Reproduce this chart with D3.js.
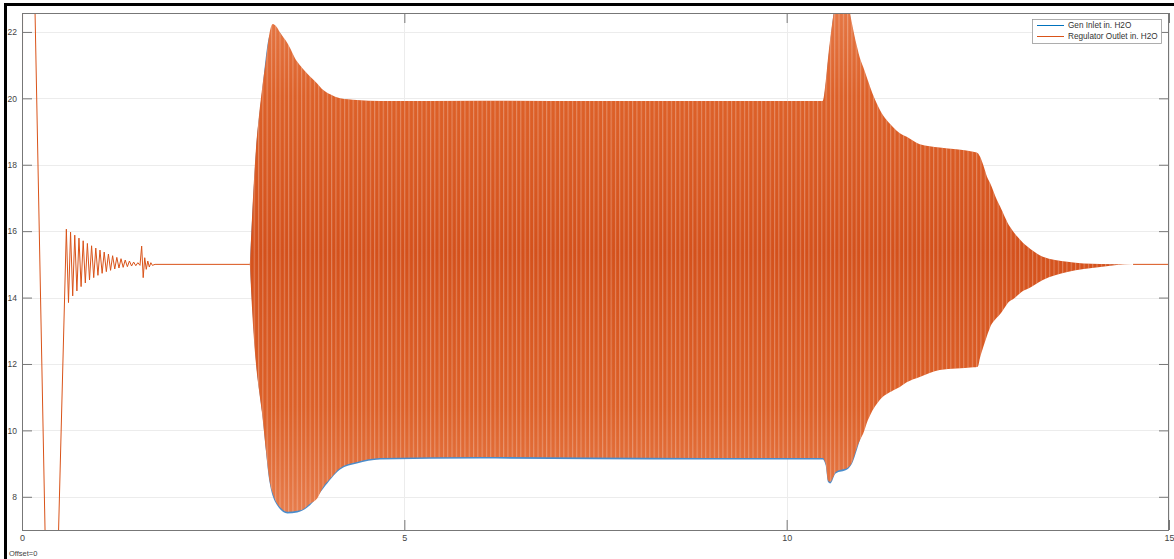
<!DOCTYPE html>
<html><head><meta charset="utf-8">
<script src="https://cdn.jsdelivr.net/npm/d3@7"></script>
<style>body{margin:0;background:#fff;} svg{display:block;font-family:"Liberation Sans",Arial,sans-serif;}</style>
</head><body><svg id="c" width="1174" height="559"></svg>
<script>
// ---- data ----
const xTicks = [0, 5, 10, 15];
const yTicks = [8, 10, 12, 14, 16, 18, 20, 22];
const seriesNames = ["Gen Inlet in. H2O", "Regulator Outlet in. H2O"];
const seriesColors = ["#0072BD", "#D95319"];

// Regulator outlet: start-up transient and decaying ringing (peaks/troughs)
const regEarlyT = [0, 0.01, 0.10, 0.36, 0.40,
  0.580, 0.608, 0.635, 0.663, 0.690, 0.718, 0.745, 0.773, 0.800, 0.828, 0.855, 0.883, 0.910, 0.938, 0.965, 0.993,
  1.020, 1.048, 1.075, 1.103, 1.130, 1.158, 1.185, 1.213, 1.240, 1.268, 1.295, 1.323, 1.350, 1.378, 1.405, 1.433,
  1.460, 1.488, 1.515, 1.543, 1.565, 1.585, 1.605, 1.625, 1.645, 1.665, 1.685, 1.705, 1.740, 2.98];
const regEarlyV = [0, 31, 31, 0, 0,
  16.06, 13.85, 15.97, 14.05, 15.88, 14.20, 15.79, 14.33, 15.71, 14.44, 15.63, 14.53, 15.56, 14.60, 15.49, 14.67,
  15.43, 14.73, 15.37, 14.78, 15.31, 14.82, 15.26, 14.86, 15.21, 14.89, 15.17, 14.91, 15.13, 14.93, 15.10, 14.95,
  15.07, 14.96, 15.05, 14.97, 15.55, 14.60, 15.20, 14.85, 15.10, 14.92, 15.05, 14.97, 15.0, 15.0];

// Regulator outlet: envelope of the dense oscillation (upper / lower)
const regT     = [2.98, 3.01, 3.06, 3.10, 3.14, 3.19, 3.24, 3.28, 3.33, 3.37, 3.47, 3.60, 3.67, 3.77, 3.86, 3.94, 4.03, 4.16, 4.38, 4.68, 6.00, 7.50, 9.00, 10.47, 10.51, 10.54, 10.57, 10.61, 10.64, 10.72, 10.79, 10.85, 10.92, 10.96, 11.00, 11.06, 11.09, 11.22, 11.39, 11.48, 11.57, 11.74, 12.00, 12.44, 12.50, 12.53, 12.57, 12.62, 12.66, 12.75, 12.79, 12.92, 12.96, 13.09, 13.14, 13.35, 13.67, 14.10, 14.53, 15.0];
const regUpper = [15.0, 16.5, 18.5, 19.5, 20.3, 21.15, 22.0, 22.24, 22.15, 22.0, 21.67, 21.1, 20.9, 20.65, 20.45, 20.25, 20.12, 20.0, 19.95, 19.92, 19.93, 19.92, 19.92, 19.92, 20.5, 21.2, 21.8, 22.5, 22.9, 23.2, 23.0, 22.3, 21.55, 21.2, 20.95, 20.55, 20.35, 19.65, 19.14, 18.95, 18.84, 18.62, 18.52, 18.39, 18.35, 18.24, 18.0, 17.64, 17.45, 16.94, 16.75, 16.13, 16.0, 15.65, 15.55, 15.23, 15.08, 15.01, 15.0, 15.0];
const regLower = [15.0, 13.6, 12.0, 11.2, 10.5, 9.4, 8.45, 8.1, 7.82, 7.7, 7.55, 7.58, 7.62, 7.8, 7.95, 8.3, 8.55, 8.87, 9.05, 9.17, 9.2, 9.18, 9.17, 9.17, 9.0, 8.5, 8.45, 8.6, 8.75, 8.82, 8.87, 9.02, 9.5, 9.72, 9.9, 10.3, 10.45, 10.92, 11.2, 11.31, 11.45, 11.61, 11.82, 11.9, 11.92, 12.2, 12.5, 12.85, 13.1, 13.4, 13.5, 13.9, 13.95, 14.2, 14.25, 14.53, 14.77, 14.92, 15.0, 15.0];

// Gen inlet: envelope of the dense oscillation (mostly hidden under the outlet)
const genT     = [2.98, 3.06, 3.14, 3.24, 3.33, 3.47, 3.60, 3.77, 3.94, 4.16, 4.38, 4.68, 6.00, 7.50, 9.00, 10.47, 10.51, 10.54, 10.57, 10.64, 10.79, 10.85, 10.96, 11.09, 11.22, 11.48, 12.00, 12.44, 12.50, 12.53, 12.57, 12.62, 12.66, 12.75, 12.96, 13.35, 14.10, 14.53, 15.0];
const genUpper = [15.0, 18.4, 20.2, 21.9, 22.05, 21.57, 21.0, 20.55, 20.15, 19.9, 19.85, 19.82, 19.83, 19.82, 19.82, 19.82, 20.4, 21.1, 21.7, 22.8, 22.9, 22.2, 21.1, 20.25, 19.55, 18.85, 18.42, 18.3, 18.25, 18.1, 17.9, 17.5, 17.3, 16.8, 15.9, 15.13, 14.99, 15.0, 15.0];
const genLower = [15.0, 12.1, 10.55, 8.41, 7.77, 7.50, 7.53, 7.75, 8.25, 8.82, 9.0, 9.12, 9.15, 9.13, 9.12, 9.12, 8.95, 8.45, 8.40, 8.70, 8.82, 8.98, 9.72, 10.52, 10.98, 11.38, 11.88, 11.97, 12.0, 12.3, 12.6, 12.95, 13.2, 13.5, 14.02, 14.60, 14.96, 15.0, 15.0];

// ---- drawing ----
const svg = d3.select("#c");
const L = 22, T = 13, R = 1169, B = 530;
const x = d3.scaleLinear().domain([0, 15]).range([L, R]);
const y = d3.scaleLinear().domain([7, 22.57]).range([B, T]);

const defs = svg.append("defs");
defs.append("clipPath").attr("id", "plotclip").append("rect")
  .attr("x", L).attr("y", T).attr("width", R - L).attr("height", B - T);
const grad = defs.append("linearGradient").attr("id", "og").attr("x1", 0).attr("y1", 0).attr("x2", 0).attr("y2", 1);
[[0, "#E77C4B"], [0.2, "#DD6129"], [0.5, "#D4511C"], [0.8, "#DD6129"], [1, "#E77C4B"]]
  .forEach(([o, c]) => grad.append("stop").attr("offset", o).attr("stop-color", c));
const pat = defs.append("pattern").attr("id", "stripes").attr("patternUnits", "userSpaceOnUse")
  .attr("width", 4.3).attr("height", 20);
pat.append("rect").attr("x", 0).attr("y", 0).attr("width", 1.1).attr("height", 20).attr("fill", "#fff").attr("opacity", 0.28);

// white background
svg.append("rect").attr("width", 1174).attr("height", 559).attr("fill", "#fff");

// grid
const grid = svg.append("g").attr("stroke", "#ececec").attr("stroke-width", 1);
yTicks.forEach(v => grid.append("line").attr("x1", L).attr("x2", R)
  .attr("y1", Math.round(y(v)) + 0.5).attr("y2", Math.round(y(v)) + 0.5));
xTicks.forEach(v => grid.append("line").attr("y1", T).attr("y2", B)
  .attr("x1", Math.round(x(v)) + 0.5).attr("x2", Math.round(x(v)) + 0.5));

const plot = svg.append("g").attr("clip-path", "url(#plotclip)");

const curve = d3.curveMonotoneX;
const genArea = d3.area().curve(curve).x(i => x(genT[i])).y0(i => y(genLower[i])).y1(i => y(genUpper[i]));
const regArea = d3.area().curve(curve).x(i => x(regT[i])).y0(i => y(regLower[i])).y1(i => y(regUpper[i]));
const genIdx = d3.range(genT.length), regIdx = d3.range(regT.length);

plot.append("path").attr("d", genArea(genIdx)).attr("fill", "#4A8CCB");

const line = d3.line().x(i => x(regEarlyT[i])).y(i => y(regEarlyV[i]));
plot.append("path").attr("d", line(d3.range(regEarlyT.length)))
  .attr("fill", "none").attr("stroke", seriesColors[1]).attr("stroke-width", 1);
plot.append("line").attr("x1", x(14.53)).attr("x2", x(15)).attr("y1", y(15)).attr("y2", y(15))
  .attr("stroke", seriesColors[1]).attr("stroke-width", 1);

plot.append("path").attr("d", regArea(regIdx)).attr("fill", "url(#og)");
plot.append("path").attr("d", regArea(regIdx)).attr("fill", "url(#stripes)");

// axes box with inward ticks
const axCol = "#777";
const ax = svg.append("g");
function styleAxis(g) {
  g.select(".domain").remove();
  g.selectAll(".tick line").attr("stroke", axCol);
  g.selectAll(".tick text").attr("fill", "#444").attr("font-size", 9);
}
ax.append("g").attr("transform", `translate(${L},0)`)
  .call(d3.axisLeft(y).tickValues(yTicks).tickSize(-10).tickPadding(5).tickFormat(d3.format("d"))).call(styleAxis)
  .selectAll(".tick text").attr("font-size", 8.5);
ax.append("g").attr("transform", `translate(${R},0)`)
  .call(d3.axisRight(y).tickValues(yTicks).tickSize(-10).tickFormat("")).call(styleAxis);
ax.append("g").attr("transform", `translate(0,${B})`)
  .call(d3.axisBottom(x).tickValues(xTicks).tickSize(-10).tickPadding(5).tickFormat(d3.format("d"))).call(styleAxis);
ax.append("g").attr("transform", `translate(0,${T})`)
  .call(d3.axisTop(x).tickValues(xTicks).tickSize(-10).tickFormat("")).call(styleAxis);
ax.append("rect").attr("x", L + 0.5).attr("y", T + 0.5).attr("width", R - L - 1).attr("height", B - T)
  .attr("fill", "none").attr("stroke", axCol).attr("stroke-width", 1);

// legend
const lg = svg.append("g");
lg.append("rect").attr("x", 1032.5).attr("y", 19.5).attr("width", 129).attr("height", 24)
  .attr("fill", "#fff").attr("stroke", "#999").attr("stroke-width", 0.8);
seriesNames.forEach((n, i) => {
  const yy = 25.5 + i * 11;
  lg.append("line").attr("x1", 1037).attr("x2", 1064).attr("y1", yy).attr("y2", yy)
    .attr("stroke", seriesColors[i]).attr("stroke-width", 1);
  lg.append("text").attr("x", 1068).attr("y", yy).attr("dy", "0.35em")
    .attr("font-size", 8.2).attr("fill", "#333").text(n);
});

svg.append("text").attr("x", 9).attr("y", 553).attr("dy", "0.35em").attr("font-size", 7.5)
  .attr("fill", "#444").text("Offset=0");

// outer black frame (top and left)
svg.append("rect").attr("x", 4).attr("y", 3).attr("width", 1170).attr("height", 3).attr("fill", "#000");
svg.append("rect").attr("x", 4).attr("y", 3).attr("width", 3).attr("height", 556).attr("fill", "#000");
</script></body></html>
